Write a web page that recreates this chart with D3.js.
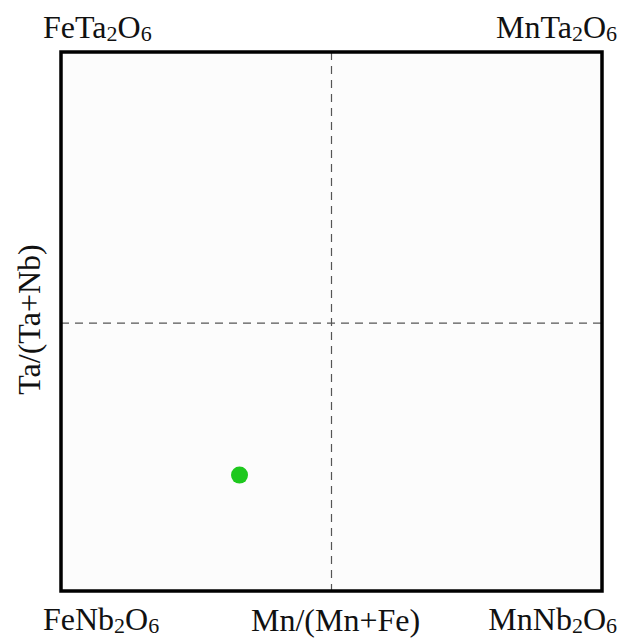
<!DOCTYPE html>
<html><head><meta charset="utf-8">
<script src="https://cdn.jsdelivr.net/npm/d3@7"></script>
<style>html,body{margin:0;padding:0;background:#fff;}svg{display:block;}</style>
</head><body>
<svg id="c" width="620" height="639"></svg>
<script>
const pointsX = [0.33];
const pointsY = [0.215];
const dividersX = [0.5];
const dividersY = [0.497];
const cornerLabels = [
  {base:"FeTa", sub1:"2", mid:"O", sub2:"6", corner:"tl"},
  {base:"MnTa", sub1:"2", mid:"O", sub2:"6", corner:"tr"},
  {base:"FeNb", sub1:"2", mid:"O", sub2:"6", corner:"bl"},
  {base:"MnNb", sub1:"2", mid:"O", sub2:"6", corner:"br"}
];
const xTitle = "Mn/(Mn+Fe)";
const yTitle = "Ta/(Ta+Nb)";

const svg = d3.select("#c");
const L=61, R=602, T=52, B=591;
const x = d3.scaleLinear().domain([0,1]).range([L,R]);
const y = d3.scaleLinear().domain([0,1]).range([B,T]);
const font = "'Liberation Serif','Times New Roman',serif";
const fs = 32;

svg.append("rect").attr("width",620).attr("height",639).attr("fill","#ffffff");
svg.append("rect").attr("x",L).attr("y",T).attr("width",R-L).attr("height",B-T).attr("fill","#fcfcfc");

svg.selectAll(".vx").data(dividersX).join("line")
  .attr("x1",d=>x(d)).attr("x2",d=>x(d)).attr("y1",T).attr("y2",B)
  .attr("stroke","#555").attr("stroke-width",1.2).attr("stroke-dasharray","8,6");
svg.selectAll(".hy").data(dividersY).join("line")
  .attr("y1",d=>y(d)).attr("y2",d=>y(d)).attr("x1",L).attr("x2",R)
  .attr("stroke","#555").attr("stroke-width",1.2).attr("stroke-dasharray","8,6");

svg.append("rect").attr("x",L).attr("y",T).attr("width",R-L).attr("height",B-T)
  .attr("fill","none").attr("stroke","#000").attr("stroke-width",3.5);

svg.selectAll(".pt").data(pointsX.map((v,i)=>[v,pointsY[i]])).join("circle")
  .attr("cx",d=>x(d[0])).attr("cy",d=>y(d[1])).attr("r",8.5).attr("fill","#1ec81e");

const pos = {tl:[43,38,"start"], tr:[617,38,"end"], bl:[43,630,"start"], br:[617,630,"end"]};
cornerLabels.forEach(c=>{
  const p = pos[c.corner];
  const t = svg.append("text").attr("x",p[0]).attr("y",p[1]).attr("text-anchor",p[2])
    .attr("font-family",font).attr("font-size",fs).attr("fill","#111");
  t.append("tspan").text(c.base);
  t.append("tspan").attr("font-size",22).attr("dy",3).text(c.sub1);
  t.append("tspan").attr("dy",-3).text(c.mid);
  t.append("tspan").attr("font-size",22).attr("dy",3).text(c.sub2);
});

svg.append("text").attr("x",x(0.5)+4).attr("y",631).attr("text-anchor","middle")
  .attr("font-family",font).attr("font-size",fs).attr("fill","#111").text(xTitle);
svg.append("text").attr("transform",`translate(40,${y(0.5)-2}) rotate(-90)`).attr("text-anchor","middle")
  .attr("font-family",font).attr("font-size",fs).attr("fill","#111").text(yTitle);
</script>
</body></html>
